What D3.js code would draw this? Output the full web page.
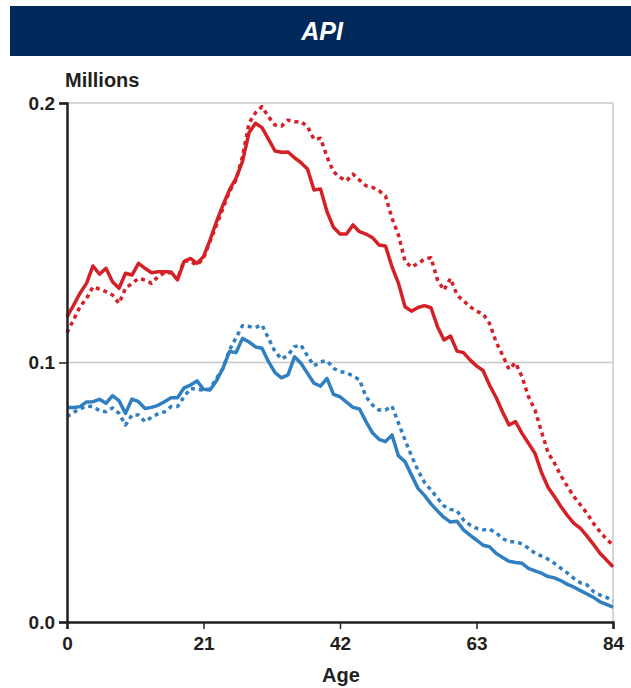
<!DOCTYPE html>
<html>
<head>
<meta charset="utf-8">
<style>
  body { margin: 0; background: #fff; }
  svg { display: block; font-family: "Liberation Sans", Arial, sans-serif; }
  .tick text { font-size: 19px; font-weight: bold; fill: #231f20; }
</style>
</head>
<body>
<svg id="chart" width="631" height="688"></svg>
<script src="https://cdn.jsdelivr.net/npm/d3@7"></script>
<script>
var ages = d3.range(0, 85);
var xTicks = [0, 21, 42, 63, 84];
var yTicks = [0, 0.1, 0.2];

var redSolid = [0.1176, 0.122, 0.1267, 0.1305, 0.1372, 0.134, 0.1363, 0.1311, 0.1286, 0.1344,
  0.1337, 0.1382, 0.1363, 0.1346, 0.135, 0.135, 0.1349, 0.1318, 0.1389, 0.1401,
  0.1382, 0.1408, 0.1472, 0.1543, 0.1607, 0.1665, 0.171, 0.1775, 0.1885, 0.1922,
  0.1905, 0.1861, 0.1815, 0.181, 0.1811, 0.1789, 0.177, 0.1746, 0.1665, 0.1669,
  0.1581, 0.1521, 0.1495, 0.1495, 0.153, 0.1504, 0.1495, 0.1481, 0.1453, 0.1449,
  0.1369, 0.1305, 0.1215, 0.1198, 0.1212, 0.1219, 0.1211, 0.1138, 0.1087, 0.1102,
  0.1044, 0.1038, 0.101, 0.0987, 0.0969, 0.0913, 0.0866, 0.081, 0.0759, 0.0772,
  0.0727, 0.0689, 0.065, 0.0576, 0.0519, 0.0483, 0.0444, 0.041, 0.038, 0.0361,
  0.0331, 0.0299, 0.0265, 0.0239, 0.0213];

var redDotted = [0.1115, 0.1164, 0.1215, 0.1247, 0.1292, 0.1283, 0.1273, 0.126, 0.1228, 0.1286,
  0.1305, 0.1324, 0.1318, 0.1305, 0.1331, 0.1346, 0.1346, 0.1321, 0.1393, 0.1388,
  0.1376, 0.1401, 0.1466, 0.153, 0.1594, 0.1659, 0.1703, 0.1793, 0.1922, 0.1962,
  0.1986, 0.1947, 0.1915, 0.1911, 0.1934, 0.1928, 0.1928, 0.1909, 0.186, 0.1864,
  0.1793, 0.1735, 0.1714, 0.17, 0.1726, 0.1703, 0.1681, 0.1675, 0.1662, 0.1642,
  0.1556, 0.1491, 0.139, 0.1367, 0.1382, 0.1398, 0.1404, 0.1318, 0.1279, 0.1324,
  0.126, 0.1238, 0.1215, 0.1198, 0.1187, 0.1151, 0.108, 0.1029, 0.0974, 0.0999,
  0.0945, 0.0868, 0.0817, 0.0733, 0.0653, 0.0612, 0.0563, 0.0522, 0.0483, 0.0451,
  0.0419, 0.038, 0.0348, 0.0319, 0.0297];

var blueSolid = [0.0827, 0.0827, 0.083, 0.0848, 0.0849, 0.0858, 0.0843, 0.0872, 0.0853, 0.0804,
  0.0859, 0.0849, 0.0823, 0.0827, 0.0835, 0.0849, 0.0864, 0.0864, 0.0902, 0.0913,
  0.0929, 0.0897, 0.0894, 0.093, 0.0978, 0.1042, 0.1038, 0.1093, 0.1079, 0.106,
  0.1055, 0.1003, 0.0961, 0.0941, 0.0952, 0.1022, 0.0997, 0.0958, 0.092, 0.0909,
  0.0939, 0.0877, 0.0868, 0.0847, 0.0827, 0.0821, 0.0772, 0.0729, 0.0704, 0.0695,
  0.0721, 0.064, 0.0618, 0.0566, 0.0515, 0.0488, 0.0455, 0.0428, 0.0403, 0.0385,
  0.0388, 0.0355, 0.0335, 0.0316, 0.0296, 0.029, 0.0265, 0.0249, 0.0234, 0.0229,
  0.0226, 0.0207, 0.0197, 0.0188, 0.0175, 0.017, 0.0159, 0.0145, 0.0134, 0.0121,
  0.0108, 0.0095, 0.0078, 0.0068, 0.0057];

var blueDotted = [0.0791, 0.0808, 0.0821, 0.0832, 0.083, 0.0814, 0.081, 0.0825, 0.0804, 0.0759,
  0.0798, 0.0798, 0.0772, 0.0789, 0.0802, 0.081, 0.083, 0.083, 0.0868, 0.09,
  0.0897, 0.0894, 0.0898, 0.0939, 0.0978, 0.1048, 0.1095, 0.1142, 0.1139, 0.1135,
  0.1145, 0.1093, 0.1042, 0.1013, 0.1029, 0.1061, 0.1067, 0.1025, 0.0987, 0.1003,
  0.1007, 0.0978, 0.0965, 0.0961, 0.0948, 0.0933, 0.0868, 0.0836, 0.0817, 0.0817,
  0.0832, 0.0766, 0.0702, 0.064, 0.0584, 0.0538, 0.0509, 0.0477, 0.0447, 0.0434,
  0.0428, 0.0393, 0.0374, 0.0361, 0.0355, 0.0358, 0.0344, 0.0322, 0.0309, 0.0309,
  0.0301, 0.0284, 0.0265, 0.0254, 0.0242, 0.0226, 0.0207, 0.0188, 0.0168, 0.0151,
  0.0143, 0.0117, 0.0104, 0.0095, 0.0081];

var red = "#d42027", blue = "#2f7fc1";

var svg = d3.select("#chart");

// title bar
svg.append("rect").attr("x", 10).attr("y", 6).attr("width", 621).attr("height", 50).attr("fill", "#00285b");
svg.append("text").attr("x", 322).attr("y", 40).attr("text-anchor", "middle")
  .attr("fill", "#fff").style("font-size", "25px").style("font-weight", "bold").style("font-style", "italic")
  .text("API");

var x = d3.scaleLinear().domain([0, 84]).range([67, 613]);
var y = d3.scaleLinear().domain([0, 0.2]).range([622, 103]);

// grid
svg.append("g").selectAll("line").data(yTicks.filter(function(d){ return d > 0; })).join("line")
  .attr("x1", 67).attr("x2", 613).attr("y1", y).attr("y2", y)
  .attr("stroke", "#c8c8c8").attr("stroke-width", 1.5);
svg.append("line").attr("x1", 613).attr("x2", 613).attr("y1", 103).attr("y2", 622)
  .attr("stroke", "#c8c8c8").attr("stroke-width", 1.5);

var line = d3.line().x(function(d, i){ return x(ages[i]); }).y(function(d){ return y(d); });

var series = [
  {v: redDotted, c: red, dash: "4,4"},
  {v: blueDotted, c: blue, dash: "4,4"},
  {v: redSolid, c: red, dash: null},
  {v: blueSolid, c: blue, dash: null}
];
series.forEach(function(s){
  svg.append("path").datum(s.v).attr("d", line)
    .attr("fill", "none").attr("stroke", s.c).attr("stroke-width", 3.5)
    .attr("stroke-linejoin", "round")
    .attr("stroke-dasharray", s.dash);
});

// axes
var yAxis = svg.append("g").attr("transform", "translate(67,0)")
  .call(d3.axisLeft(y).tickValues(yTicks).tickFormat(d3.format(".1f")).tickSize(8).tickPadding(4));
var xAxis = svg.append("g").attr("transform", "translate(0,622)")
  .call(d3.axisBottom(x).tickValues(xTicks).tickSize(7).tickPadding(8));
[yAxis, xAxis].forEach(function(a){
  a.select(".domain").attr("stroke", "#231f20").attr("stroke-width", 2.5);
  a.selectAll(".tick line").attr("stroke", "#231f20").attr("stroke-width", 1.5);
});

svg.append("text").attr("x", 65).attr("y", 87).style("font-size", "20px").style("font-weight", "bold")
  .attr("fill", "#231f20").text("Millions");
svg.append("text").attr("x", 341).attr("y", 682).attr("text-anchor", "middle")
  .style("font-size", "20px").style("font-weight", "bold").attr("fill", "#231f20").text("Age");
</script>
</body>
</html>
